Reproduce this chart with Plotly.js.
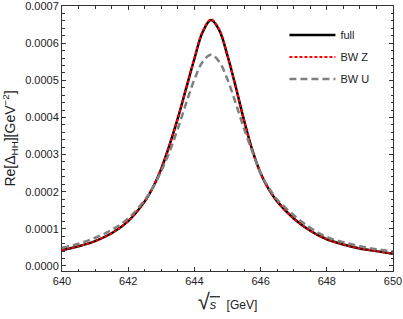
<!DOCTYPE html>
<html>
<head>
<meta charset="utf-8">
<script src="https://cdn.plot.ly/plotly-3.0.1.min.js"></script>
<style>html,body{margin:0;padding:0;background:#fff;}#chart{width:403px;height:319px;}</style>
</head>
<body>
<div id="chart"></div>
<script>
// energies (GeV)
const sqrtS = [640, 640.5, 641, 641.5, 642, 642.5, 642.75, 643, 643.25, 643.5, 643.75, 644, 644.25, 644.5, 644.75, 645, 645.25, 645.5, 645.75, 646, 646.25, 646.5, 647, 647.5, 648, 648.5, 649, 649.5, 650];
// Re[Delta_HH] in units of 1e-4 GeV^-2
const fullVals = [0.43, 0.53, 0.67, 0.88, 1.21, 1.74, 2.12, 2.62, 3.26, 3.98, 4.78, 5.58, 6.30, 6.62, 6.35, 5.66, 4.82, 3.92, 3.12, 2.50, 2.06, 1.74, 1.28, 0.95, 0.72, 0.58, 0.47, 0.40, 0.33];
const bwZVals  = [0.43, 0.53, 0.67, 0.88, 1.21, 1.74, 2.12, 2.62, 3.26, 3.98, 4.78, 5.59, 6.32, 6.64, 6.37, 5.67, 4.82, 3.92, 3.12, 2.50, 2.06, 1.74, 1.28, 0.95, 0.72, 0.58, 0.47, 0.40, 0.33];
const bwUVals  = [0.49, 0.60, 0.76, 0.97, 1.28, 1.78, 2.12, 2.56, 3.08, 3.70, 4.38, 5.02, 5.50, 5.69, 5.50, 5.02, 4.38, 3.70, 3.08, 2.50, 2.10, 1.79, 1.37, 1.03, 0.78, 0.64, 0.53, 0.45, 0.39];
const seriesNames = ["full", "BW Z", "BW U"];
const scale = 1e-4;

const toY = a => a.map(v => v * scale);

const traces = [
  {x: sqrtS, y: toY(fullVals), name: seriesNames[0], mode: "lines", line: {color: "#000000", width: 2.5, shape: "spline", smoothing: 1}},
  {x: sqrtS, y: toY(bwZVals), name: seriesNames[1], mode: "lines", line: {color: "#ff0000", width: 2, dash: "3px,2px", shape: "spline", smoothing: 1}},
  {x: sqrtS, y: toY(bwUVals), name: seriesNames[2], mode: "lines", line: {color: "#808080", width: 2.5, dash: "7px,4px", shape: "spline", smoothing: 1}}
];

const fontFam = "Liberation Sans, Arial, sans-serif";
const layout = {
  width: 403, height: 319,
  margin: {l: 62, r: 10, t: 6, b: 48},
  paper_bgcolor: "#ffffff", plot_bgcolor: "#ffffff",
  font: {family: fontFam, size: 11, color: "#222"},
  showlegend: true,
  legend: {x: 0.672, y: 0.945, xanchor: "left", yanchor: "top", bgcolor: "rgba(0,0,0,0)", font: {size: 11, color: "#222"}, itemwidth: 46, tracegroupgap: 3, traceorder: "grouped"},
  xaxis: {
    range: [640, 650], tickmode: "linear", tick0: 640, dtick: 2,
    ticks: "inside", ticklen: 4, tickwidth: 1, tickcolor: "#333", ticklabeloverflow: "allow",
    minor: {dtick: 0.5, ticks: "inside", ticklen: 2.5, tickcolor: "#333"},
    showline: true, linecolor: "#333", linewidth: 1, mirror: "allticks",
    showgrid: false, zeroline: false,
    title: {text: "<span style=\"font-size:22px\">√</span><span style=\"text-decoration:overline;font-size:13px\"><i>s</i> </span>  [GeV]", font: {size: 12, color: "#222"}, standoff: 14}
  },
  yaxis: {
    range: [-0.0000135, 0.00070001], tickmode: "linear", tick0: 0, dtick: 0.0001, tickformat: ".4f",
    ticks: "inside", ticklen: 4, tickwidth: 1, tickcolor: "#333", ticklabeloverflow: "allow",
    minor: {dtick: 0.00002, ticks: "inside", ticklen: 2.5, tickcolor: "#333"},
    showline: true, linecolor: "#333", linewidth: 1, mirror: "allticks",
    showgrid: false, zeroline: false,
    title: {text: "Re[Δ<sub>HH</sub>][GeV<sup>−2</sup>]", font: {size: 14, color: "#222"}, standoff: 8}
  }
};
traces.forEach((t, i) => t.legendgroup = "g" + i);
Plotly.newPlot("chart", traces, layout, {staticPlot: true, displayModeBar: false});
</script>
</body>
</html>
